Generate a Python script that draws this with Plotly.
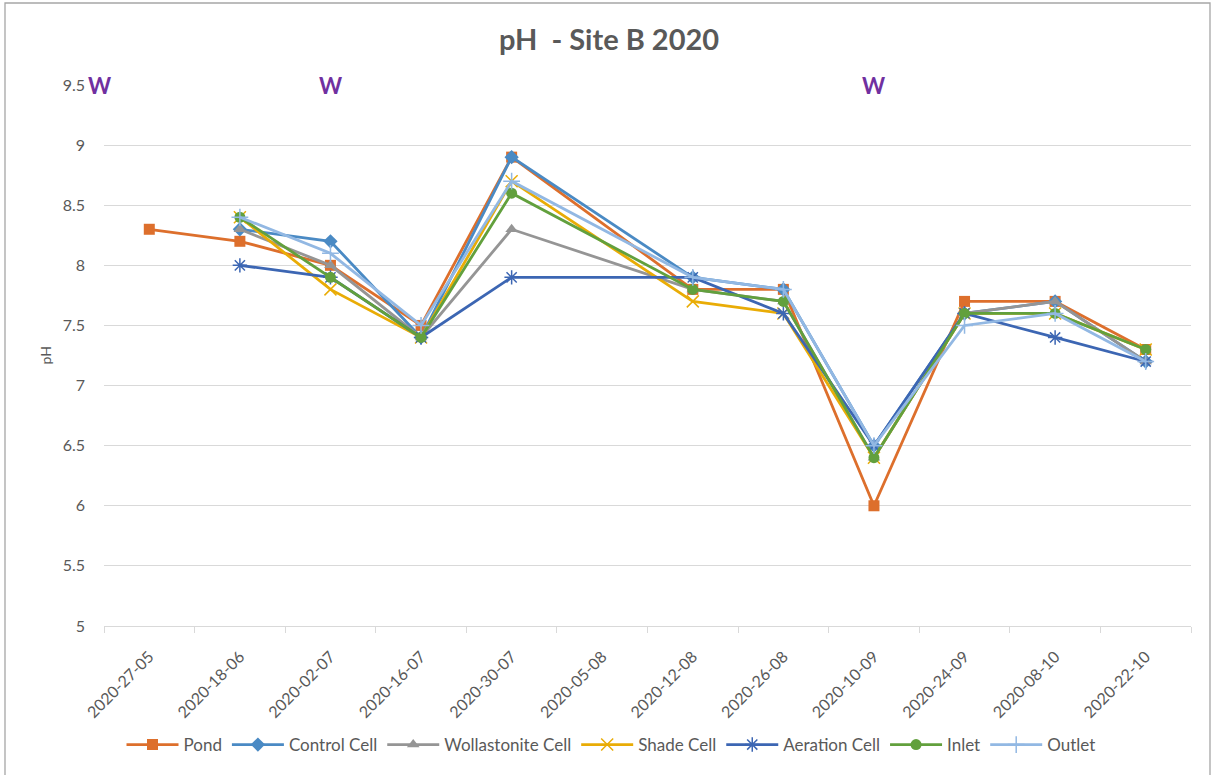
import plotly.graph_objects as go

dates = ["2020-27-05", "2020-18-06", "2020-02-07", "2020-16-07", "2020-30-07", "2020-05-08",
         "2020-12-08", "2020-26-08", "2020-10-09", "2020-24-09", "2020-08-10", "2020-22-10"]

pond = [8.3, 8.2, 8.0, 7.5, 8.9, None, 7.8, 7.8, 6.0, 7.7, 7.7, 7.3]
control = [None, 8.3, 8.2, 7.4, 8.9, None, 7.9, 7.8, 6.5, 7.6, 7.7, 7.2]
wollastonite = [None, 8.3, 8.0, 7.4, 8.3, None, 7.8, 7.7, 6.4, 7.6, 7.7, 7.2]
shade = [None, 8.4, 7.8, 7.4, 8.7, None, 7.7, 7.6, 6.4, 7.6, 7.6, 7.3]
aeration = [None, 8.0, 7.9, 7.4, 7.9, None, 7.9, 7.6, 6.5, 7.6, 7.4, 7.2]
inlet = [None, 8.4, 7.9, 7.4, 8.6, None, 7.8, 7.7, 6.4, 7.6, 7.6, 7.3]
outlet = [None, 8.4, 8.1, 7.5, 8.7, None, 7.9, 7.8, 6.5, 7.5, 7.6, 7.2]

w_marks = [-0.545, 2, 8]

series = [
    ("Pond", pond, "#DD6F2C", "square", 11),
    ("Control Cell", control, "#4A8AC4", "diamond", 11),
    ("Wollastonite Cell", wollastonite, "#959595", "triangle-up", 11),
    ("Shade Cell", shade, "#E9AC06", "x-thin", 12),
    ("Aeration Cell", aeration, "#3C66B3", "asterisk", 12),
    ("Inlet", inlet, "#62A03D", "circle", 11),
    ("Outlet", outlet, "#92B8E3", "cross-thin", 12),
]

xs = list(range(len(dates)))
fig = go.Figure()
for name, vals, col, sym, sz in series:
    thin = sym in ("x-thin", "asterisk", "cross-thin")
    fig.add_trace(go.Scatter(
        x=xs, y=vals, name=name, mode="lines+markers", connectgaps=True,
        line=dict(color=col, width=2.8),
        marker=dict(symbol=sym, size=sz, color=col,
                    line=dict(color=col, width=1.5 if thin else 0)),
    ))

W = 1215
H = 775
L, R, T, B = 104, 1191, 85, 626
pw, ph = R - L, B - T


def px(xr):
    return (xr - L) / pw


def py(yr):
    return (B - yr) / ph


font = "Lato, 'Liberation Sans', sans-serif"
grey = "#595959"

annotations = []
for xv in w_marks:
    xpix = L + (xv + 0.5) * (pw / 12)
    annotations.append(dict(x=px(xpix), y=py(85), xref="paper", yref="paper", text="<b>W</b>",
                            showarrow=False, font=dict(family=font, size=22, color="#7030A0"),
                            xanchor="center", yanchor="middle"))
annotations.append(dict(x=px(45), y=0.5, xref="paper", yref="paper", text="pH",
                        textangle=-90, showarrow=False, font=dict(family=font, size=14, color=grey),
                        xanchor="center", yanchor="middle"))

fig.update_layout(
    width=W, height=H,
    margin=dict(l=L, r=W - R, t=T, b=H - B, pad=0),
    paper_bgcolor="white", plot_bgcolor="white",
    title=dict(text="<b>pH  - Site B 2020</b>", x=609 / W, y=1 - 40 / H,
               xanchor="center", yanchor="middle",
               font=dict(family=font, size=29, color=grey)),
    font=dict(family=font, size=15, color=grey),
    showlegend=True,
    legend=dict(orientation="h", x=px(611), y=py(745), xanchor="center", yanchor="middle",
                font=dict(family=font, size=17, color=grey), itemwidth=52, tracegroupgap=0),
    xaxis=dict(range=[-0.5, 11.5], tickmode="array", tickvals=xs, ticktext=dates, tickangle=-45,
               showgrid=False, zeroline=False, showline=True, linecolor="#D9D9D9", linewidth=1.3,
               ticks="", ticklabelstandoff=14, tickfont=dict(family=font, size=16, color=grey),
               minor=dict(tickmode="array", tickvals=[i - 0.5 for i in range(13)], ticks="outside",
                          ticklen=6, tickcolor="#D9D9D9", tickwidth=1.3, showgrid=False)),
    yaxis=dict(range=[5, 9.5], dtick=0.5, tick0=5, showgrid=True, gridcolor="#D9D9D9", gridwidth=1.3,
               zeroline=False, showline=False, ticks="", ticklabelstandoff=18,
               tickfont=dict(family=font, size=16, color=grey)),
    annotations=annotations,
    shapes=[dict(type="rect", xref="paper", yref="paper",
                 x0=px(5), x1=px(1210), y0=py(790), y1=py(3),
                 line=dict(color="#A6A6A6", width=1.3), layer="below")],
)

fig.write_html("out.html", config={"displayModeBar": False},
               post_script="document.body.style.margin='0px';")
